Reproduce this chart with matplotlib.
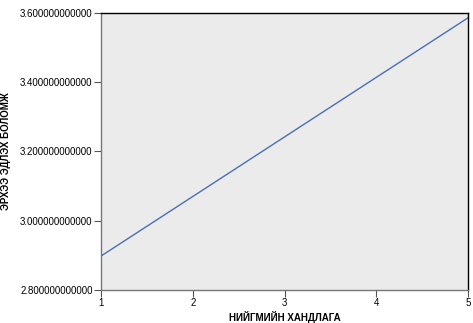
import matplotlib
matplotlib.use("Agg")
import matplotlib.pyplot as plt

x_vals = [1, 5]
y_vals = [2.898, 3.586]
x_ticks = [1, 2, 3, 4, 5]
y_ticks = [2.8, 3.0, 3.2, 3.4, 3.6]
x_label = "НИЙГМИЙН ХАНДЛАГА"
y_label = "ЭРХЭЭ ЭДЛЭХ БОЛОМЖ"

plt.rcParams['font.family'] = ['Liberation Sans', 'DejaVu Sans']
fig = plt.figure(figsize=(4.73, 3.23), dpi=100)
ax = fig.add_axes([101/473, 33/323, 367/473, 277/323])
ax.set_facecolor('#EBEBEB')
ax.plot(x_vals, y_vals, color='#4A6FB5', lw=1.0)
ax.set_xlim(1, 5)
ax.set_ylim(2.8, 3.6)
ax.set_xticks(x_ticks)
ax.set_xticklabels([str(v) for v in x_ticks], fontsize=7)
ax.set_yticks(y_ticks)
ax.set_yticklabels([f"{v:.12f}" for v in y_ticks], fontsize=7)
ax.tick_params(direction='out', length=5, width=0.8, color='#555555', pad=1)
for s in ['left', 'bottom']:
    ax.spines[s].set_color('#777777')
    ax.spines[s].set_linewidth(1.0)
for s in ['top', 'right']:
    ax.spines[s].set_color('black')
    ax.spines[s].set_linewidth(1.0)
ax.set_xlabel(x_label, fontsize=7, fontweight='bold')
ax.xaxis.set_label_coords(0.5, -21/277)
ax.set_ylabel(y_label, fontsize=7, fontweight='bold')
ax.yaxis.set_label_coords(-90/367, 0.5)
fig.savefig('out.png', dpi=100)
